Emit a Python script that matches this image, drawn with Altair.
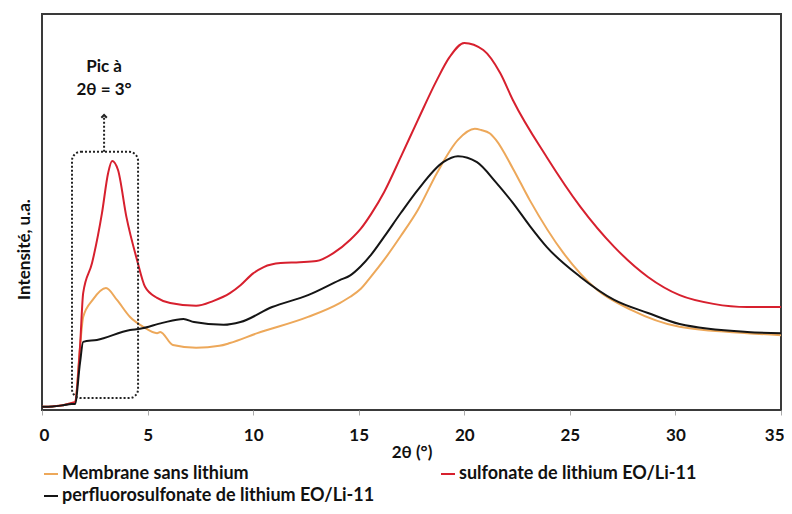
import altair as alt
import pandas as pd

# ---- data ----
series_names = ["Membrane sans lithium", "sulfonate de lithium EO/Li-11",
                "perfluorosulfonate de lithium EO/Li-11"]
series_colors = ["#EDA85A", "#D7202E", "#151515"]
# legend entries are laid out column by column
legend_order = [series_names[0], series_names[2], series_names[1]]
legend_colors = [series_colors[0], series_colors[2], series_colors[1]]

orange_x = [0, 0.5, 1.0, 1.4, 1.56, 1.8, 1.95, 2.4, 3.03, 3.55, 4.17, 4.8, 5.45,
            5.6, 6.2, 7.3, 8.4, 8.9, 10.2, 12.6, 14.1, 14.6, 15.1, 15.6, 16.2,
            17.0, 17.8, 18.7, 19.7, 20.5, 20.8, 21.2, 21.5, 22.3, 23.1, 24.7,
            26.3, 27.9, 30.2, 33.4, 35]
orange_y = [0.8, 0.9, 1.2, 1.8, 2.0, 15.9, 23.5, 27.8, 30.8, 27.8, 23.5, 21.0,
            19.4, 19.7, 16.4, 15.7, 16.2, 16.9, 19.4, 23.5, 27.0, 28.6, 30.6,
            33.8, 37.9, 44.0, 50.5, 59.8, 68.2, 71.0, 70.7, 69.9, 68.2, 61.0,
            53.0, 39.6, 30.3, 25.3, 21.0, 19.4, 18.9]

red_x = [0, 0.5, 1.0, 1.4, 1.56, 1.8, 1.95, 2.37, 2.84, 3.13, 3.32, 3.6, 4.0,
         4.5, 4.88, 5.45, 6.07, 7.3, 8.1, 8.9, 9.4, 10.0, 10.5, 11.3, 12.2,
         13.0, 13.8, 14.6, 15.1, 15.6, 16.2, 17.0, 17.8, 18.7, 19.3, 20.0,
         20.9, 21.7, 22.3, 23.9, 25.5, 27.1, 28.7, 30.2, 31.8, 33.4, 35]
red_y = [0.8, 0.9, 1.2, 1.8, 2.0, 15.9, 29.5, 37.1, 49.7, 59.8, 62.9, 60.6,
         48.7, 37.9, 31.1, 28.3, 27.0, 26.3, 27.5, 29.5, 31.5, 34.5, 36.1,
         37.1, 37.3, 37.6, 39.6, 43.0, 45.8, 49.6, 55.0, 64.0, 73.2, 83.3,
         89.1, 92.7, 90.9, 85.1, 78.3, 63.9, 51.3, 41.2, 33.6, 29.0, 26.8,
         26.0, 26.0]

black_x = [0, 0.5, 1.0, 1.4, 1.56, 1.8, 1.95, 2.6, 4.17, 4.64, 5.7, 6.7, 7.2,
           8.6, 9.4, 10.9, 12.6, 14.1, 14.6, 15.1, 15.6, 16.2, 17.0, 17.8,
           19.0, 19.7, 20.6, 21.5, 22.3, 23.1, 23.9, 25.5, 27.1, 28.7, 30.2,
           33.4, 35]
black_y = [0.8, 0.9, 1.2, 1.5, 1.5, 11.9, 17.2, 17.7, 20.2, 20.5, 22.0, 23.0,
           22.2, 21.5, 22.2, 26.0, 29.0, 32.8, 34.0, 36.3, 39.3, 43.7, 49.8,
           55.6, 62.6, 64.1, 62.6, 57.5, 52.3, 46.5, 41.2, 33.6, 27.8, 24.5,
           21.7, 19.7, 19.4]

x_ticks = [0, 5, 10, 15, 20, 25, 30, 35]

# annotation (box around the low-angle peak, arrow and label)
box_x = [1.42, 4.55]
box_y = [3.0, 65.2]
arrow_x = 2.94
arrow_y = [65.2, 74.5]
note_lines = ["Pic à", "2θ = 3°"]
note_y = [86.6, 80.8]

FONT = "Lato"
FS = 17

# ---- build table (drawing order: orange, red, black) ----
frames = []
for k, (name, xs, ys) in enumerate(zip(series_names, [orange_x, red_x, black_x],
                                       [orange_y, red_y, black_y])):
    frames.append(pd.DataFrame({"t": xs, "v": ys, "serie": name, "k": k}))
lines_df = pd.concat(frames, ignore_index=True)

xscale = alt.Scale(domain=[0, 35], nice=False)
yscale = alt.Scale(domain=[0, 100], nice=False)
color = alt.Color(
    "serie:N",
    sort=legend_order,
    scale=alt.Scale(domain=legend_order, range=legend_colors),
    legend=alt.Legend(
        title=None, orient="none", legendX=0, legendY=451, columns=2,
        columnPadding=62, rowPadding=4, symbolType="stroke",
        symbolSize=196, symbolStrokeWidth=2, labelFont=FONT,
        labelFontSize=18, labelFontWeight="bold", labelColor="#111",
        labelOffset=2, labelLimit=500,
    ),
)

xaxis = alt.Axis(values=x_ticks, grid=False, domain=False, tickColor="#aaa",
                 tickSize=5, labelFont=FONT, labelFontSize=FS,
                 labelFontWeight="bold", labelColor="#111", labelPadding=12,
                 labelFlush=True, labelFlushOffset=3, title="2θ (°)",
                 titleFont=FONT, titleFontSize=FS, titleFontWeight="bold",
                 titleColor="#111", titleY=42, titleBaseline="middle")
yaxis = alt.Axis(grid=False, domain=False, ticks=False, labels=False,
                 title="Intensité, u.a.", titleFont=FONT, titleFontSize=FS,
                 titleFontWeight="bold", titleColor="#111", titleX=-18,
                 titleY=235, titleBaseline="middle", titleAngle=-90,
                 titleAlign="center")

lines = alt.Chart(lines_df).mark_line(strokeWidth=2, interpolate="monotone").encode(
    x=alt.X("t:Q", scale=xscale, axis=xaxis),
    y=alt.Y("v:Q", scale=yscale, axis=yaxis),
    color=color,
    detail="k:O",
)

box_df = pd.DataFrame({"x1": [box_x[0]], "x2": [box_x[1]], "y1": [box_y[0]], "y2": [box_y[1]]})
box = alt.Chart(box_df).mark_rect(fillOpacity=0, stroke="#222", strokeWidth=2,
                                  strokeDash=[2, 2], cornerRadius=9).encode(
    x=alt.X("x1:Q", scale=xscale, axis=xaxis), x2="x2:Q",
    y=alt.Y("y1:Q", scale=yscale, axis=yaxis), y2="y2:Q")

arrow_df = pd.DataFrame({"x": [arrow_x], "y1": [arrow_y[0]], "y2": [arrow_y[1]]})
arrow = alt.Chart(arrow_df).mark_rule(stroke="#222", strokeWidth=2,
                                      strokeDash=[2, 2]).encode(
    x=alt.X("x:Q", scale=xscale, axis=xaxis),
    y=alt.Y("y1:Q", scale=yscale, axis=yaxis), y2="y2:Q")
head = alt.Chart(arrow_df).mark_point(shape="M-1,1L0,0L1,1", size=30, filled=False,
                                      stroke="#222", strokeWidth=2, opacity=1).encode(
    x=alt.X("x:Q", scale=xscale, axis=xaxis),
    y=alt.Y("y2:Q", scale=yscale, axis=yaxis))

note_df = pd.DataFrame({"x": [arrow_x] * 2, "y": note_y, "txt": note_lines})
note = alt.Chart(note_df).mark_text(font=FONT, fontSize=FS, fontWeight="bold",
                                    color="#111", baseline="middle",
                                    align="center").encode(
    x=alt.X("x:Q", scale=xscale, axis=xaxis),
    y=alt.Y("y:Q", scale=yscale, axis=yaxis), text="txt:N")

chart = alt.layer(lines, box, arrow, head, note).properties(
    width=739, height=396,
    autosize=alt.AutoSizeParams(type="none"),
    padding={"left": 34, "top": 6, "right": 3, "bottom": 96},
).configure_view(stroke="#3a3a3a", strokeWidth=2)

chart.save("out.html", embed_options={"renderer": "svg", "actions": False})
